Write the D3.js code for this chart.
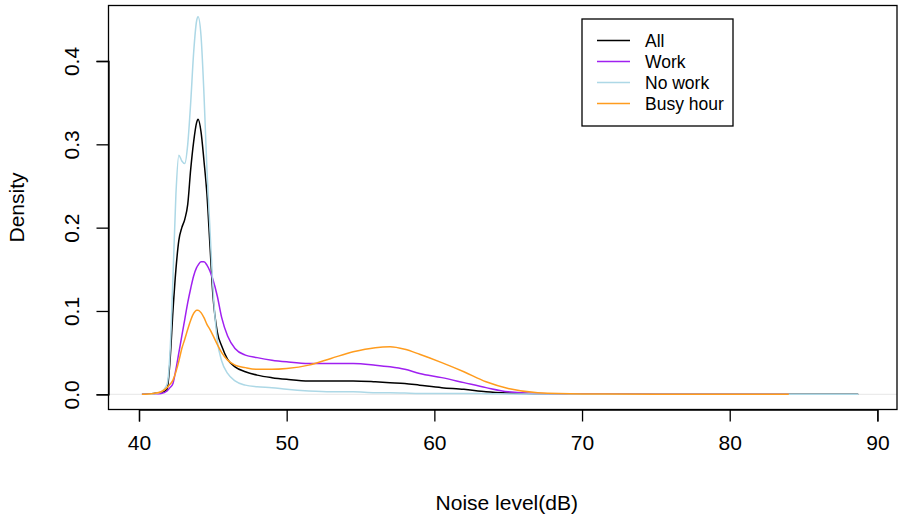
<!DOCTYPE html>
<html>
<head>
<meta charset="utf-8">
<script src="https://cdn.jsdelivr.net/npm/d3@7"></script>
<style>
  body { margin: 0; background: #fff; }
  svg text { font-family: "Liberation Sans", Arial, Helvetica, sans-serif; fill: #000; }
</style>
</head>
<body>
<svg id="chart"></svg>
<script>
// noise level grid (dB) shared by all curves
const noise = [40.2, 41.0, 41.5, 41.9, 42.1, 42.3, 42.5, 42.7, 42.9, 43.1, 43.3, 43.5, 43.7, 43.9, 44.0,
  44.2, 44.4, 44.6, 44.8, 45.0, 45.3, 45.6, 46.0, 46.5, 47.2, 48, 49, 50, 51.5, 53, 54.5, 56, 57, 58, 59,
  60.5, 62, 63.5, 65, 67, 70, 75, 80, 84, 88.7]

const allDens = [0, 0.001, 0.002, 0.006, 0.04, 0.10, 0.15, 0.185, 0.20, 0.21, 0.228, 0.27, 0.303, 0.326, 0.330,
  0.315, 0.28, 0.24, 0.18, 0.12, 0.075, 0.058, 0.042, 0.033, 0.027, 0.023, 0.02, 0.018, 0.016, 0.016, 0.016, 0.015, 0.014, 0.013, 0.011,
  0.008, 0.006, 0.003, 0.0015, 0.0007, 0.0003, 0.0002, 0.0001, 0.0001, 0]

const workDens = [0, 0.0005, 0.001, 0.004, 0.008, 0.013, 0.03, 0.05, 0.07, 0.09, 0.11, 0.127, 0.142, 0.152, 0.155,
  0.159, 0.159, 0.155, 0.148, 0.138, 0.118, 0.092, 0.07, 0.055, 0.047, 0.044, 0.041, 0.039, 0.037, 0.037, 0.037, 0.035, 0.033, 0.03, 0.025,
  0.02, 0.014, 0.008, 0.003, 0.001, 0.0004, 0.0002, 0.0001, 0, null]

const noWorkDens = [0, 0.0005, 0.003, 0.012, 0.05, 0.14, 0.24, 0.287, 0.28, 0.277, 0.30, 0.35, 0.41, 0.448, 0.453,
  0.43, 0.36, 0.27, 0.20, 0.13, 0.065, 0.04, 0.025, 0.016, 0.011, 0.009, 0.008, 0.006, 0.004, 0.003, 0.003, 0.002, 0.002, 0.0015, 0.001,
  0.001, 0.001, 0.0008, 0.0005, 0.0003, 0.0002, 0.0001, 0.0001, 0.0001, 0]

const busyDens = [0, 0.001, 0.003, 0.008, 0.012, 0.017, 0.027, 0.04, 0.055, 0.066, 0.078, 0.089, 0.097, 0.101, 0.101,
  0.098, 0.092, 0.084, 0.078, 0.071, 0.06, 0.05, 0.041, 0.035, 0.032, 0.03, 0.03, 0.031, 0.035, 0.043, 0.051, 0.056, 0.057, 0.054, 0.048,
  0.038, 0.027, 0.015, 0.007, 0.002, 0.0005, 0.0002, 0.0001, 0, null]

const seriesNames = ['All', 'Work', 'No work', 'Busy hour']
const seriesColors = ['#000000', '#a020f0', '#add8e6', '#ff9c1e']
const seriesValues = [allDens, workDens, noWorkDens, busyDens]

const xTicks = [40, 50, 60, 70, 80, 90]
const yTicks = [0, 0.1, 0.2, 0.3, 0.4]

const width = 898
const height = 518
const box = {left: 108.5, right: 897, top: 5.5, bottom: 409.5}
const fontFam = '"Liberation Sans", Arial, sans-serif'

const svg = d3.select('#chart').attr('width', width).attr('height', height)

const x = d3.scaleLinear().domain([40, 90]).range([139, 877.4])
const y = d3.scaleLinear().domain([0, 0.4]).range([394.3, 61])

// zero line
svg.append('line')
  .attr('x1', box.left).attr('x2', box.right)
  .attr('y1', y(0)).attr('y2', y(0))
  .attr('stroke', '#e6e6e6').attr('stroke-width', 1)

// curves
const line = d3.line()
  .defined(d => d[1] !== null)
  .x(d => x(d[0]))
  .y(d => y(d[1]))
  .curve(d3.curveMonotoneX)

seriesValues.forEach((vals, i) => {
  svg.append('path')
    .datum(noise.map((n, j) => [n, vals[j]]))
    .attr('fill', 'none')
    .attr('stroke', seriesColors[i])
    .attr('stroke-width', 1.5)
    .attr('d', line)
})

// plot box
svg.append('rect')
  .attr('x', box.left).attr('y', box.top)
  .attr('width', box.right - box.left).attr('height', box.bottom - box.top)
  .attr('fill', 'none').attr('stroke', '#000').attr('stroke-width', 1.3)

// axes
const xAxis = d3.axisBottom(x).tickValues(xTicks).tickSize(12).tickPadding(14).tickFormat(d3.format('d'))
svg.append('g')
  .attr('transform', `translate(0,${box.bottom})`)
  .call(xAxis)
  .call(g => g.select('.domain').attr('stroke-width', 1.3))
  .call(g => g.selectAll('.tick line').attr('stroke-width', 1.3))
  .call(g => g.selectAll('text').attr('font-size', 21).style('font-family', fontFam))

const yAxis = d3.axisLeft(y).tickValues(yTicks).tickSize(12).tickFormat(d3.format('.1f'))
const yG = svg.append('g')
  .attr('transform', `translate(${box.left},0)`)
  .call(yAxis)
yG.select('.domain').attr('stroke-width', 1.3)
yG.selectAll('.tick line').attr('stroke-width', 1.3)
yG.selectAll('text')
  .attr('font-size', 21)
  .style('font-family', fontFam)
  .attr('text-anchor', 'middle')
  .attr('dy', null)
  .attr('x', 0)
  .attr('transform', 'translate(-37,0) rotate(-90)')
  .attr('dominant-baseline', 'central')

// axis titles
svg.append('text')
  .attr('x', (box.left + box.right) / 2 + 4)
  .attr('y', 510)
  .attr('text-anchor', 'middle')
  .attr('font-size', 21)
  .text('Noise level(dB)')

svg.append('text')
  .attr('transform', `translate(24,${(box.top + box.bottom) / 2}) rotate(-90)`)
  .attr('text-anchor', 'middle')
  .attr('font-size', 21)
  .text('Density')

// legend
const legend = svg.append('g').attr('transform', 'translate(582,19)')
legend.append('rect')
  .attr('width', 151).attr('height', 107)
  .attr('fill', '#fff').attr('stroke', '#000').attr('stroke-width', 1.3)

seriesNames.forEach((name, i) => {
  const ly = 21.5 + i * 21
  legend.append('line')
    .attr('x1', 15).attr('x2', 48)
    .attr('y1', ly).attr('y2', ly)
    .attr('stroke', seriesColors[i]).attr('stroke-width', 1.5)
  legend.append('text')
    .attr('x', 63).attr('y', ly + 6)
    .attr('font-size', 17.5)
    .text(name)
})
</script>
</body>
</html>
